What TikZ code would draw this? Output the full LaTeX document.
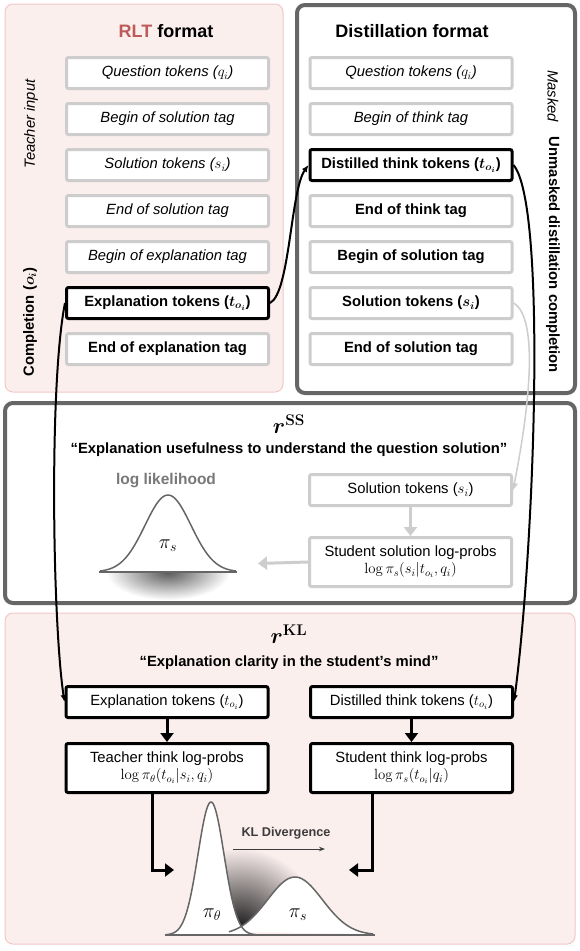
\documentclass[tikz,border=0pt]{standalone}
\usepackage{fix-cm}
\usepackage[no-math]{fontspec}
\usepackage{amsmath,bm}
\setmainfont{Liberation Sans}
\usepackage{tikz}
\usetikzlibrary{positioning,calc,arrows.meta,shadings}
\definecolor{panelpink}{RGB}{251,239,238}
\definecolor{pinkedge}{RGB}{240,200,200}
\definecolor{darkedge}{RGB}{102,102,102}
\definecolor{lightedge}{RGB}{205,205,205}
\definecolor{rltred}{RGB}{188,92,90}
\definecolor{lkgrey}{RGB}{120,120,120}
\definecolor{kltext}{RGB}{60,60,60}
\tikzstyle{token} = [rectangle, draw=lightedge, fill=white, line width=3pt, rounded corners=2pt, minimum width=202pt, minimum height=31pt, text centered]
\tikzstyle{keytoken} = [token, draw=black]
\tikzstyle{probbox} = [token, minimum height=49pt, align=center]
\tikzstyle{heading} = [font=\fontsize{18}{21}\selectfont\bfseries]
\tikzstyle{quote} = [font=\fontsize{14.8}{17}\selectfont\bfseries]
\tikzstyle{reward} = [font=\fontsize{22}{26}\selectfont]
\tikzstyle{pilabel} = [font=\fontsize{20}{24}\selectfont]
\tikzstyle{connector} = [line width=2pt,-{Latex[length=7pt,width=6pt]}]
\tikzstyle{flow} = [line width=3pt,-{Triangle[length=9pt,width=13pt]}]
\tikzstyle{greyflow} = [flow, draw=lightedge, color=lightedge]
\tikzstyle{bell} = [line width=1.5pt, darkedge, samples=70]

\begin{document}
\begin{tikzpicture}[x=1pt,y=-1pt,every node/.style={font=\fontsize{14.8}{17}\selectfont}]
    \useasboundingbox (0,0) rectangle (579,951);
    \draw[pinkedge, fill=panelpink, line width=1pt, rounded corners=8pt] (5,4) rectangle (283,392);
    \draw[darkedge, fill=white, line width=4pt, rounded corners=8pt] (297,5) rectangle (575,393);
    \draw[darkedge, fill=white, line width=4pt, rounded corners=8pt] (5,403) rectangle (575,603);
    \draw[pinkedge, fill=panelpink, line width=1pt, rounded corners=8pt] (5,613) rectangle (575,944);

    \node[heading] (rlttitle) at (166,31) {\textcolor{rltred}{RLT} format};
    \node[token] (lq) at (167.5,73) {\itshape Question tokens ($q_i$)};
    \node[token,below=12pt of lq] (lbs) {\itshape Begin of solution tag};
    \node[token,below=12pt of lbs] (ls) {\itshape Solution tokens ($s_i$)};
    \node[token,below=12pt of ls] (les) {\itshape End of solution tag};
    \node[token,below=12pt of les] (lbe) {\itshape Begin of explanation tag};
    \node[keytoken,below=12pt of lbe] (lexp) {\bfseries Explanation tokens ($\bm{t_{o_i}}$)};
    \node[token,below=12pt of lexp] (lee) {\bfseries End of explanation tag};
    \node[rotate=90] (teacherin) at (31,124) {\itshape Teacher input};
    \node[rotate=90] (compl) at (30,322) {\bfseries Completion ($\bm{o_i}$)};

    \node[heading] (disttitle) at (412,31) {Distillation format};
    \node[token] (rq) at (411,73) {\itshape Question tokens ($q_i$)};
    \node[token,below=12pt of rq] (rbt) {\itshape Begin of think tag};
    \node[keytoken,below=12pt of rbt] (rdist) {\bfseries Distilled think tokens ($\bm{t_{o_i}}$)};
    \node[token,below=12pt of rdist] (ret) {\bfseries End of think tag};
    \node[token,below=12pt of ret] (rbs) {\bfseries Begin of solution tag};
    \node[token,below=12pt of rbs] (rsol) {\bfseries Solution tokens ($\bm{s_i}$)};
    \node[token,below=12pt of rsol] (res) {\bfseries End of solution tag};
    \node[rotate=-90] (masked) at (553,96) {\itshape Masked};
    \node[rotate=-90] (unmasked) at (553,255) {\bfseries Unmasked distillation completion};

    \node[reward] (rss) at (289,424) {$\bm{r}^{\mathbf{SS}}$};
    \node[quote] (ssquote) at (289,450) {“Explanation usefulness to understand the question solution”};
    \node[token] (msol) at (410.5,490) {Solution tokens ($s_i$)};
    \node[probbox,below=29pt of msol] (mlogp) {Student solution log-probs\\$\log\pi_s(s_i|t_{o_i},q_i)$};
    \node[text=lkgrey, font=\fontsize{15.5}{18}\selectfont\bfseries] (loglik) at (166,481) {log likelihood};
    \begin{scope}
        \clip (98,573) rectangle (238,603);
        \shade[inner color=black!65, outer color=white] (168,572) ellipse (62pt and 28pt);
    \end{scope}
    \fill[white] plot[domain=100:236,samples=70] (\x,{572-77*exp(-((\x-168)/23)*((\x-168)/23)/2)});
    \draw[bell] plot[domain=100:236] (\x,{572-77*exp(-((\x-168)/23)*((\x-168)/23)/2)});
    \draw[bell] (99,572) -- (237,572);
    \node[pilabel] (pismid) at (168,546) {$\pi_s$};
    \coordinate (llend) at (258,563.5);
    \draw[greyflow] (msol) -- (mlogp);
    \draw[greyflow] (mlogp.west) -- (llend);
    \draw[lightedge, line width=1.5pt, -{Triangle[length=7pt,width=7pt]}] (rsol.east) .. controls +(26,15) and +(16,-80) .. (msol.east);

    \node[reward] (rkl) at (289,634) {$\bm{r}^{\mathbf{KL}}$};
    \node[quote] (klquote) at (289,663) {“Explanation clarity in the student’s mind”};
    \node[keytoken] (bexp) at (167,702) {Explanation tokens ($t_{o_i}$)};
    \node[keytoken] (bdist) at (411.5,702) {Distilled think tokens ($t_{o_i}$)};
    \node[probbox,draw=black,below=23pt of bexp] (tlogp) {Teacher think log-probs\\$\log\pi_\theta(t_{o_i}|s_i,q_i)$};
    \node[probbox,draw=black,below=23pt of bdist] (slogp) {Student think log-probs\\$\log\pi_s(t_{o_i}|q_i)$};
    \draw[flow] (bexp) -- (tlogp);
    \draw[flow] (bdist) -- (slogp);
    \coordinate (thetain) at (174,870);
    \coordinate (studin) at (349,870);
    \draw[flow] ([xshift=-15pt]tlogp.south) |- (thetain);
    \draw[flow] ([xshift=-39.5pt]slogp.south) |- (studin);

    \begin{scope}
        \clip (222,828) -- plot[domain=222:300,samples=60] (\x,{935-max(133*exp(-((\x-211)/13)*((\x-211)/13)/2),58*exp(-((\x-295)/27.5)*((\x-295)/27.5)/2))}) -- (300,828) -- cycle;
        \shade[inner color=black!90, outer color=panelpink] (240,928) circle (80pt);
    \end{scope}
    \fill[white] plot[domain=229:373,samples=70] (\x,{935-58*exp(-((\x-295)/27.5)*((\x-295)/27.5)/2)});
    \fill[white] plot[domain=166:256,samples=70] (\x,{935-133*exp(-((\x-211)/13)*((\x-211)/13)/2)});
    \draw[bell] plot[domain=229:373] (\x,{935-58*exp(-((\x-295)/27.5)*((\x-295)/27.5)/2)});
    \draw[bell] plot[domain=166:256] (\x,{935-133*exp(-((\x-211)/13)*((\x-211)/13)/2)});
    \draw[bell] (165,935) -- (375,935);
    \node[pilabel] (pitheta) at (212,915) {$\pi_\theta$};
    \node[pilabel] (pistud) at (298,915) {$\pi_s$};
    \node[text=kltext, font=\fontsize{12.7}{15}\selectfont\bfseries] (kldiv) at (286,833) {KL Divergence};
    \coordinate (klstart) at (233,849);
    \coordinate (klend) at (325,849);
    \draw[kltext, line width=1pt, -{Stealth[length=6pt]}] (klstart) -- (klend);

    \draw[connector] (lexp.east) .. controls +(20,-10) and +(-18,25) .. (rdist.west);
    \draw[connector] (lexp.west) .. controls +(-16,80) and +(-12,-80) .. (bexp.west);
    \draw[connector] (rdist.east) .. controls +(34,40) and +(20,-150) .. (bdist.east);
\end{tikzpicture}
\end{document}
